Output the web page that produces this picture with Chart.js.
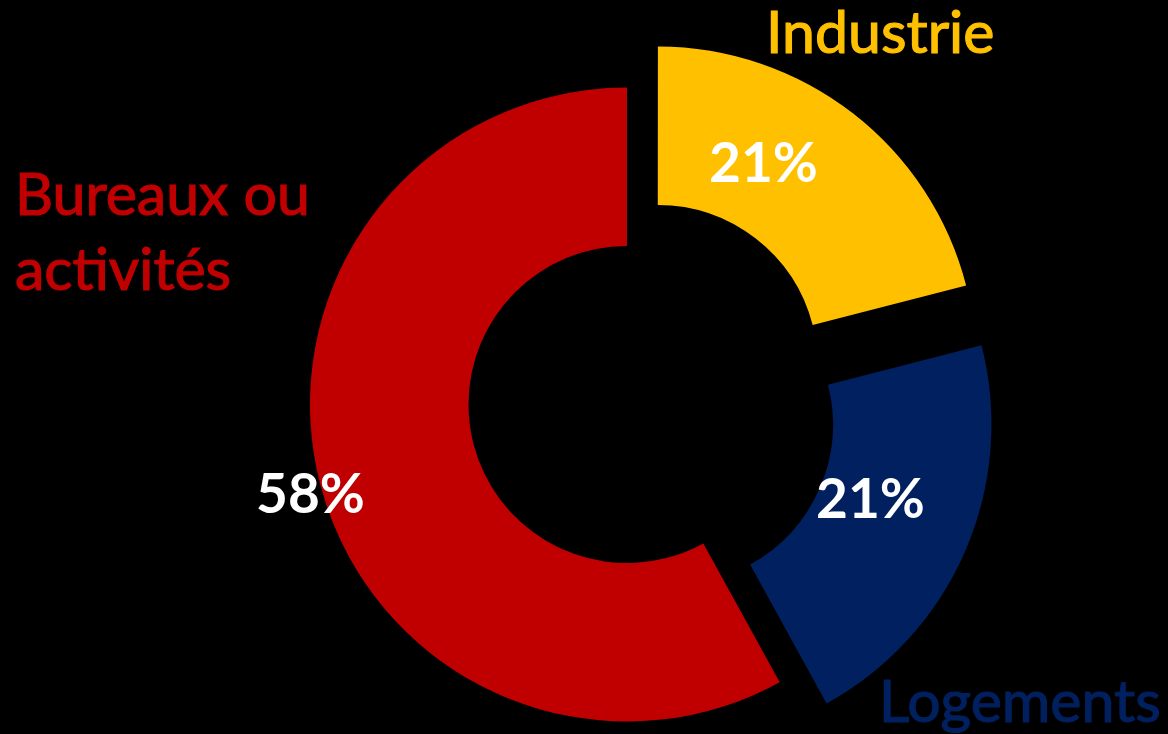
<!DOCTYPE html>
<html lang="fr">
<head>
  <meta charset="UTF-8">
  <title>Répartition</title>
  <script src="https://cdn.jsdelivr.net/npm/chart.js"></script>
  <style>
    html, body { margin: 0; padding: 0; background: #000; }
    #wrap { width: 1168px; height: 734px; position: relative; }
  </style>
</head>
<body>
  <div id="wrap"><canvas id="chartCanvas"></canvas></div>

  <script>
    const categories = ["Industrie", "Logements", "Bureaux ou activités"];
    const shares = [21, 21, 58];
    const percentLabels = ["21%", "21%", "58%"];
    const colors = ["#FFC000", "#002060", "#C00000"];

    // titles around the ring: text lines, colour, left x, baseline y
    const titles = [
      { lines: ["Industrie"], color: "#FFC000", x: 766, y: 53 },
      { lines: ["Logements"], color: "#002060", x: 879, y: 722 },
      { lines: ["Bureaux ou", "activités"], color: "#C00000", x: 15, y: 215 }
    ];
    // where the percentage of each slice is written (left x, baseline y)
    const percentPos = [
      { x: 709, y: 182 },
      { x: 816, y: 518 },
      { x: 256, y: 513 }
    ];

    const labelPlugin = {
      id: "labels",
      afterDraw(chart) {
        const c = chart.ctx;
        c.save();
        c.textAlign = "left";
        c.textBaseline = "alphabetic";
        c.font = "bold 55px Lato";
        c.fillStyle = "#FFFFFF";
        percentLabels.forEach((t, i) => c.fillText(t, percentPos[i].x, percentPos[i].y));
        c.font = "59px Lato";
        c.lineWidth = 1.2;
        titles.forEach(t => {
          c.fillStyle = t.color;
          c.strokeStyle = t.color;
          t.lines.forEach((line, k) => {
            c.fillText(line, t.x, t.y + k * 75);
            c.strokeText(line, t.x, t.y + k * 75);
          });
        });
        c.restore();
      }
    };

    const ctx = document.getElementById("chartCanvas").getContext("2d");
    new Chart(ctx, {
      type: "doughnut",
      data: {
        labels: categories,
        datasets: [{
          data: shares,
          backgroundColor: colors,
          borderWidth: 0,
          // Chart.js v4 moves an arc by offset / 4
          offset: [200, 200, 0],
          clip: false
        }]
      },
      options: {
        responsive: true,
        maintainAspectRatio: false,
        animation: false,
        radius: 317,
        cutout: "50%",
        layout: { padding: { left: 86, right: 0, top: 75, bottom: 0 } },
        plugins: {
          legend: { display: false },
          tooltip: { enabled: false }
        }
      },
      plugins: [labelPlugin]
    });
  </script>
</body>
</html>
